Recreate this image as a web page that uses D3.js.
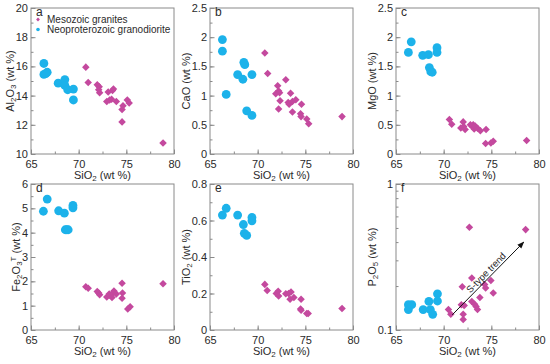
<!DOCTYPE html>
<html>
<head>
<meta charset="utf-8">
<script src="https://cdn.jsdelivr.net/npm/d3@7"></script>
<style>
  body { margin: 0; background: #fff; }
  text { font-family: "Liberation Sans", Arial, sans-serif; fill: #2a2a2a; }
</style>
</head>
<body>
<script>
// data: [SiO2, oxide] pairs
const alBlue = [[66.35,16.2],[66.35,15.45],[66.7,15.6],[66.55,15.5],[67.85,14.85],[68.55,15.1],[68.55,14.7],[68.85,14.4],[69.45,14.45],[69.45,13.7]];
const alMeso = [[70.75,15.95],[71.0,14.9],[71.95,14.75],[72.15,14.6],[72.1,14.4],[72.2,14.2],[72.95,13.6],[73.1,14.25],[73.25,13.7],[73.45,13.75],[73.55,14.35],[73.65,14.45],[73.95,13.6],[74.55,13.05],[74.65,13.3],[74.55,12.2],[75.1,13.7],[75.3,13.5],[78.85,10.75]];

const caBlue = [[66.3,1.96],[66.3,1.76],[66.7,1.02],[67.9,1.36],[68.55,1.57],[68.65,1.53],[68.45,1.28],[69.4,1.36],[68.85,0.74],[69.4,0.66]];
const caMeso = [[70.75,1.73],[71.05,1.38],[72.95,1.27],[72.1,1.17],[72.2,1.08],[71.9,1.03],[72.3,1.05],[72.35,0.91],[72.2,0.77],[73.45,1.04],[73.2,0.88],[73.3,0.85],[73.65,0.9],[74.0,0.93],[73.65,0.72],[74.6,0.85],[74.5,0.69],[74.55,0.64],[75.15,0.6],[75.35,0.52],[78.85,0.64]];

const mgBlue = [[66.3,1.74],[66.6,1.92],[67.8,1.69],[68.4,1.7],[68.5,1.48],[68.65,1.41],[68.8,1.4],[69.3,1.82],[69.3,1.74]];
const mgMeso = [[70.6,0.59],[70.85,0.51],[71.8,0.445],[72.05,0.55],[72.1,0.47],[72.25,0.42],[72.8,0.5],[73.0,0.47],[73.1,0.5],[73.2,0.43],[73.3,0.48],[73.55,0.44],[73.85,0.4],[74.45,0.42],[74.4,0.18],[74.95,0.19],[75.2,0.22],[78.7,0.23]];

const feBlue = [[66.3,4.88],[66.7,5.38],[67.9,4.9],[68.5,4.8],[68.6,4.12],[68.75,4.12],[68.9,4.12],[69.4,5.12],[69.4,5.02]];
const feMeso = [[70.75,1.78],[71.0,1.72],[71.95,1.58],[72.1,1.52],[72.2,1.45],[72.95,1.36],[73.2,1.48],[73.3,1.42],[73.5,1.34],[73.7,1.6],[73.6,1.52],[73.95,1.48],[74.55,1.92],[74.6,1.52],[74.55,1.3],[75.15,0.86],[75.4,0.96],[78.85,1.9]];

const tiBlue = [[66.3,0.63],[66.7,0.667],[67.9,0.63],[68.5,0.578],[68.6,0.53],[68.85,0.518],[69.4,0.617],[69.4,0.598]];
const tiMeso = [[70.75,0.25],[71.0,0.217],[71.95,0.2],[72.15,0.212],[72.2,0.186],[72.95,0.198],[73.25,0.2],[73.5,0.208],[73.4,0.168],[73.8,0.178],[74.55,0.168],[74.5,0.115],[74.55,0.108],[75.15,0.09],[75.3,0.09],[78.85,0.118]];

const pBlue = [[66.3,0.149],[66.3,0.138],[66.65,0.149],[67.85,0.138],[68.45,0.157],[68.6,0.138],[68.85,0.128],[69.35,0.177],[69.35,0.158]];
const pMeso = [[70.5,0.138],[70.75,0.128],[71.85,0.149],[71.95,0.198],[72.05,0.128],[72.05,0.118],[72.15,0.147],[72.7,0.505],[72.95,0.227],[72.95,0.157],[73.25,0.15],[73.4,0.145],[73.55,0.138],[73.8,0.167],[74.3,0.205],[74.4,0.194],[74.95,0.218],[75.2,0.179],[78.6,0.487]];

const xTicks = [65, 70, 75, 80];
const trendArrow = [[70.9,0.127],[78.4,0.40]];
const legendLabels = ["Mesozoic granites", "Neoproterozoic granodiorite"];

const magenta = "#c4499e", cyan = "#1cb2ea", frameCol = "#8a8a8a";
const W = 550, H = 364;
const colX = [31, 210, 396], rowY = [8, 184];
const pw = 143, ph = 146;

const panels = [
  {id:"a", c:0, r:0, dom:[10,20], major:[10,12,14,16,18,20], minor:1, lab:[["Al"],["2","s"],["O"],["3","s"],[" (wt %)"]], blue:alBlue, meso:alMeso, legend:true},
  {id:"b", c:1, r:0, dom:[0,2.5], major:[0,0.5,1,1.5,2,2.5], minor:0.25, lab:[["CaO (wt %)"]], blue:caBlue, meso:caMeso},
  {id:"c", c:2, r:0, dom:[0,2.5], major:[0,0.5,1,1.5,2,2.5], minor:0.25, lab:[["MgO (wt %)"]], blue:mgBlue, meso:mgMeso},
  {id:"d", c:0, r:1, dom:[0,6], major:[0,1,2,3,4,5,6], minor:0.5, lab:[["Fe"],["2","s"],["O"],["3","s"],["T","u"],[" (wt %)"]], blue:feBlue, meso:feMeso},
  {id:"e", c:1, r:1, dom:[0,0.8], major:[0,0.2,0.4,0.6,0.8], minor:0.1, lab:[["TiO"],["2","s"],[" (wt %)"]], blue:tiBlue, meso:tiMeso},
  {id:"f", c:2, r:1, dom:[0.1,1], log:true, major:[0.1,1], lab:[["P"],["2","s"],["O"],["5","s"],[" (wt %)"]], blue:pBlue, meso:pMeso, arrow:true}
];

const svg = d3.select("body").append("svg").attr("width", W).attr("height", H);
svg.append("defs").append("marker")
  .attr("id","ah").attr("viewBox","0 0 10 10").attr("refX",9).attr("refY",5)
  .attr("markerWidth",7).attr("markerHeight",7).attr("orient","auto")
  .append("path").attr("d","M0,1 L10,5 L0,9 z").attr("fill","#111");

const diamond = d3.symbol().type(d3.symbolDiamond2).size(36);

function richText(sel, parts) {
  parts.forEach(p => {
    const t = sel.append("tspan").text(p[0]);
    if (p[1] === "s") t.attr("baseline-shift", "-28%").attr("font-size", "8px");
    if (p[1] === "u") t.attr("baseline-shift", "45%").attr("font-size", "8px");
  });
}

panels.forEach(p => {
  const x0 = colX[p.c], y0 = rowY[p.r];
  const g = svg.append("g").attr("transform", `translate(${x0},${y0})`);
  const x = d3.scaleLinear().domain([65, 80]).range([0, pw]);
  const y = (p.log ? d3.scaleLog() : d3.scaleLinear()).domain(p.dom).range([ph, 0]);

  // minor ticks
  const xMinor = d3.range(65, 80.01, 2.5);
  let yMinor;
  if (p.log) yMinor = d3.range(2, 10).map(v => v / 10);
  else yMinor = d3.range(p.dom[0], p.dom[1] + 1e-9, p.minor);

  g.append("g").attr("transform", `translate(0,${ph})`)
    .call(d3.axisBottom(x).tickValues(xMinor).tickSize(-2.5).tickFormat(""))
    .call(s => s.select(".domain").remove())
    .selectAll("line").attr("stroke", frameCol);
  g.append("g")
    .call(d3.axisLeft(y).tickValues(yMinor).tickSize(-2.5).tickFormat(""))
    .call(s => s.select(".domain").remove())
    .selectAll("line").attr("stroke", frameCol);

  // major ticks with labels
  const xa = g.append("g").attr("transform", `translate(0,${ph})`)
    .call(d3.axisBottom(x).tickValues(xTicks).tickSize(-4.5).tickPadding(6.5).tickFormat(d3.format("d")));
  const ya = g.append("g")
    .call(d3.axisLeft(y).tickValues(p.major).tickSize(-4.5).tickPadding(3).tickFormat(v => String(v)));
  [xa, ya].forEach(a => {
    a.select(".domain").remove();
    a.selectAll("line").attr("stroke", frameCol);
    a.selectAll("text").attr("font-size", "11px").attr("fill", "#2a2a2a")
      .style("font-family", '"Liberation Sans", Arial, sans-serif');
  });

  g.append("rect").attr("width", pw).attr("height", ph)
    .attr("fill", "none").attr("stroke", frameCol).attr("stroke-width", 1);

  // axis titles
  const xt = g.append("text").attr("x", pw / 2).attr("y", ph + 25)
    .attr("text-anchor", "middle").attr("font-size", "11px");
  richText(xt, [["SiO"],["2","s"],[" (wt %)"]]);
  const lx = ya.node().getBBox().x - 1.5;
  const yt = g.append("text")
    .attr("transform", `translate(${lx},${ph / 2}) rotate(-90)`)
    .attr("text-anchor", "middle").attr("font-size", "11px");
  richText(yt, p.lab);

  g.append("text").attr("x", 5).attr("y", 8).attr("font-size", "12px").text(p.id);

  // points
  g.selectAll(".m").data(p.meso).join("path").attr("class", "m")
    .attr("d", diamond).attr("fill", magenta)
    .attr("transform", d => `translate(${x(d[0])},${y(d[1])})`);
  g.selectAll(".n").data(p.blue).join("circle").attr("class", "n")
    .attr("r", 4.4).attr("fill", cyan)
    .attr("cx", d => x(d[0])).attr("cy", d => y(d[1]));

  if (p.legend) {
    const lg = g.append("g").attr("transform", "translate(7,11.5)");
    lg.append("path").attr("d", d3.symbol().type(d3.symbolDiamond2).size(9)).attr("fill", magenta);
    lg.append("circle").attr("cy", 10).attr("r", 1.8).attr("fill", cyan);
    lg.selectAll("text").data(legendLabels).join("text")
      .attr("x", 9).attr("y", (d, i) => i * 10 + 3.5).attr("font-size", "10px").text(d => d);
  }

  if (p.arrow) {
    const [a, b] = trendArrow;
    const ax = x(a[0]), ay = y(a[1]), bx = x(b[0]), by = y(b[1]);
    g.append("line").attr("x1", ax).attr("y1", ay).attr("x2", bx).attr("y2", by)
      .attr("stroke", "#111").attr("stroke-width", 1).attr("marker-end", "url(#ah)");
    const ang = Math.atan2(by - ay, bx - ax) * 180 / Math.PI;
    const mx = (ax + bx) / 2 + 4, my = (ay + by) / 2;
    g.append("text").attr("transform", `translate(${mx},${my}) rotate(${ang}) translate(0,-5)`)
      .attr("text-anchor", "middle").attr("font-size", "9.5px").text("S-type trend");
  }
});
</script>
</body>
</html>
